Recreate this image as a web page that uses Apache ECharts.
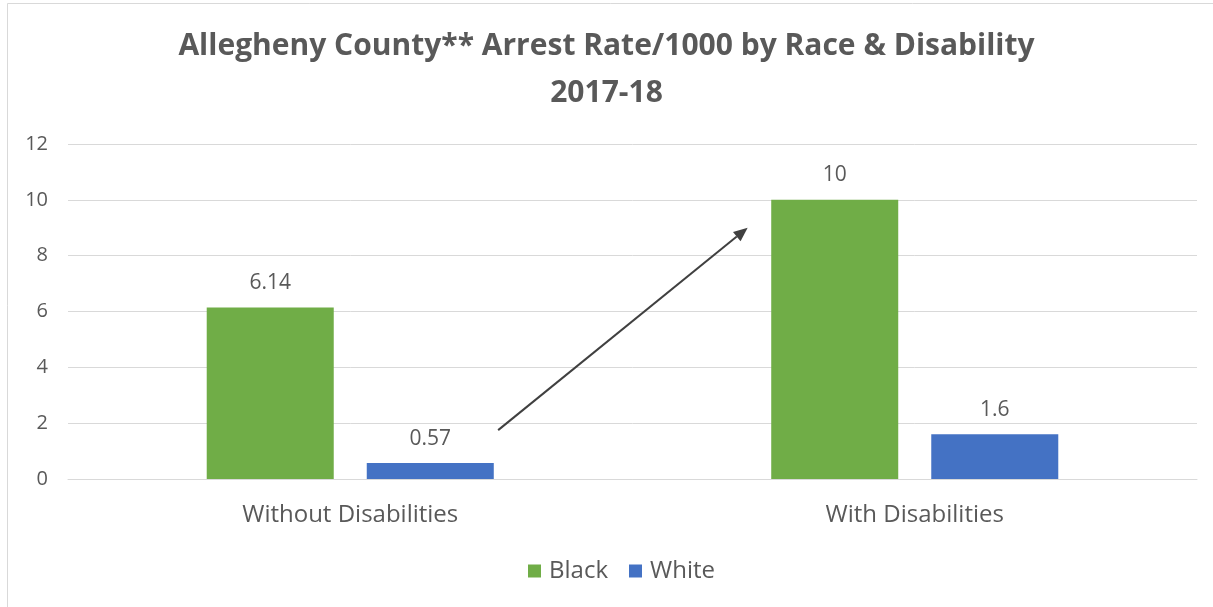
<!DOCTYPE html>
<html><head><meta charset="utf-8">
<script src="https://cdn.jsdelivr.net/npm/echarts@6/dist/echarts.min.js"></script>
<style>html,body{margin:0;padding:0;background:#fff}#c{width:1213px;height:607px}</style>
</head><body><div id="c"></div>
<script>
const categories = ['Without Disabilities', 'With Disabilities'];
const blackValues = [6.14, 10];
const whiteValues = [0.57, 1.6];
const yTicks = [0, 2, 4, 6, 8, 10, 12];
const arrowFrom = {category: 0, value: 1.75};
const arrowTo = {category: 1, value: 9.0};

const chart = echarts.init(document.getElementById('c'));
const txt = '#595959';
const font = '"Open Sans", sans-serif';
const option = {
  animation: false,
  backgroundColor: '#fff',
  title: {
    text: 'Allegheny County** Arrest Rate/1000 by Race & Disability\n2017-18',
    left: 'center', top: 18,
    textStyle: {fontFamily: font, fontWeight: 'bold', fontSize: 30, color: txt, lineHeight: 47}
  },
  legend: {
    bottom: 19, left: 523, itemWidth: 13, itemHeight: 13, itemGap: 21,
    icon: 'rect',
    textStyle: {fontFamily: font, fontSize: 24, color: txt, padding: [0, 0, 0, 3]},
    data: ['Black', 'White']
  },
  grid: {left: 68, right: 16, top: 144, bottom: 128, containLabel: false},
  xAxis: {
    type: 'category', data: categories,
    axisLine: {lineStyle: {color: '#d9d9d9', width: 1}},
    axisTick: {show: false},
    axisLabel: {fontFamily: font, fontSize: 24, color: txt, margin: 24}
  },
  yAxis: {
    type: 'value', min: yTicks[0], max: yTicks[yTicks.length-1], interval: 2,
    axisLine: {show: false}, axisTick: {show: false},
    axisLabel: {fontFamily: font, fontSize: 20, color: txt, margin: 20},
    splitLine: {lineStyle: {color: '#d9d9d9', width: 1}}
  },
  series: [
    {name: 'Black', type: 'bar', data: blackValues, barWidth: '22.5%', barGap: '26%',
     itemStyle: {color: '#70AD47'},
     label: {show: true, position: 'top', distance: 14, fontFamily: font, fontSize: 21, color: txt}},
    {name: 'White', type: 'bar', data: whiteValues, barWidth: '22.5%', barGap: '26%',
     itemStyle: {color: '#4472C4'},
     label: {show: true, position: 'top', distance: 14, fontFamily: font, fontSize: 21, color: txt}}
  ]
};
chart.setOption(option);

function drawArrow() {
  const p0 = chart.convertToPixel({gridIndex: 0}, [arrowFrom.category, arrowFrom.value]);
  const p1 = chart.convertToPixel({gridIndex: 0}, [arrowTo.category, arrowTo.value]);
  const band = chart.convertToPixel({gridIndex: 0}, [1, 0])[0] - p0[0];
  const x0 = p0[0] + band * 0.262, y0 = p0[1];
  const x1 = p1[0] - band * 0.296, y1 = p1[1];
  const ang = Math.atan2(y1 - y0, x1 - x0);
  const L = 14, W = 6;
  const bx = x1 - L * Math.cos(ang), by = y1 - L * Math.sin(ang);
  const nx = -Math.sin(ang), ny = Math.cos(ang);
  chart.setOption({graphic: [
    {type: 'rect', shape: {x: 7.5, y: 3.5, width: 1220, height: 620}, style: {fill: null, stroke: '#d9d9d9', lineWidth: 1}, z: 100},
    {type: 'line', shape: {x1: x0, y1: y0, x2: bx, y2: by}, style: {stroke: '#404040', lineWidth: 2}, z: 100},
    {type: 'polygon', shape: {points: [[x1, y1], [bx + nx * W, by + ny * W], [bx - nx * W, by - ny * W]]}, style: {fill: '#404040'}, z: 100}
  ]});
}
drawArrow();
</script>
</body></html>
